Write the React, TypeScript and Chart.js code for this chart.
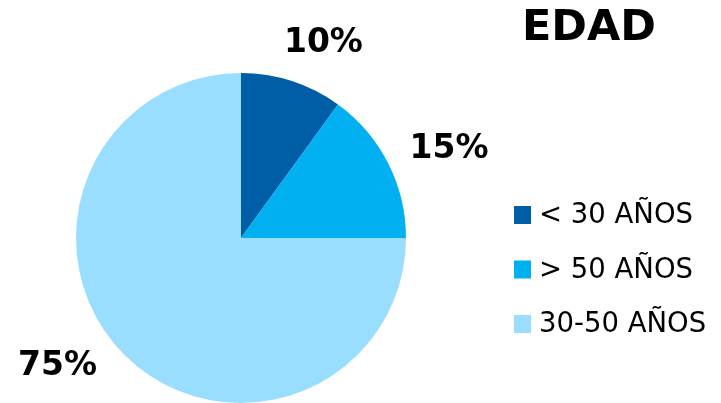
import React, { useEffect, useRef } from "react";
import { Chart, registerables } from "chart.js";

Chart.register(...registerables);

const title = "EDAD";
const categories = ["< 30 AÑOS", "> 50 AÑOS", "30-50 AÑOS"];
const values = [10, 15, 75];
const colors = ["#005EA6", "#00B0F0", "#99DDFF"];

// label anchor layout (angle offset in degrees from slice middle, radius in px)
const labelLayout = [
  { da: 5, r: 211 },
  { da: 4, r: 226 },
  { da: 10, r: 224 },
];

const FONT = "'DejaVu Sans', Verdana, sans-serif";

const overlayPlugin = {
  id: "overlay",
  afterDraw(chart: any) {
    const ctx = chart.ctx as CanvasRenderingContext2D;
    const meta = chart.getDatasetMeta(0);
    const total = values.reduce((a, b) => a + b, 0);
    ctx.save();
    ctx.fillStyle = "#000";
    ctx.textAlign = "center";
    ctx.textBaseline = "middle";
    ctx.font = `bold 33px ${FONT}`;
    meta.data.forEach((arc: any, i: number) => {
      const mid = (arc.startAngle + arc.endAngle) / 2 + (labelLayout[i].da * Math.PI) / 180;
      const x = arc.x + Math.cos(mid) * labelLayout[i].r;
      const y = arc.y + Math.sin(mid) * labelLayout[i].r;
      const pct = Math.round((values[i] / total) * 100) + "%";
      ctx.fillText(pct, x, y);
    });
    // title
    ctx.font = `bold 43px ${FONT}`;
    ctx.textAlign = "left";
    ctx.fillText(title, 522, 29);
    // legend
    ctx.font = `27.5px ${FONT}`;
    categories.forEach((c, i) => {
      const cy = 215 + i * 54.5;
      ctx.fillStyle = colors[i];
      ctx.fillRect(514, cy - 9, 17, 18);
      ctx.fillStyle = "#000";
      ctx.fillText(c, 539, cy + 1);
    });
    ctx.restore();
  },
};

export default function App() {
  const ref = useRef<HTMLCanvasElement>(null);
  useEffect(() => {
    const chart = new Chart(ref.current!, {
      type: "pie",
      data: {
        labels: categories,
        datasets: [
          {
            data: values,
            backgroundColor: colors,
            borderWidth: 0,
          },
        ],
      },
      options: {
        animation: false,
        responsive: false,
        layout: { padding: { left: 76, top: 73, right: 315, bottom: 0 } },
        plugins: {
          legend: { display: false },
          tooltip: { enabled: false },
          title: { display: false },
        },
      },
      plugins: [overlayPlugin],
    });
    return () => chart.destroy();
  }, []);
  return (
    <div style={{ position: "fixed", left: 0, top: 0, width: 721, height: 403, background: "#fff" }}>
      <canvas ref={ref} width={721} height={403} style={{ width: 721, height: 403 }} />
    </div>
  );
}
